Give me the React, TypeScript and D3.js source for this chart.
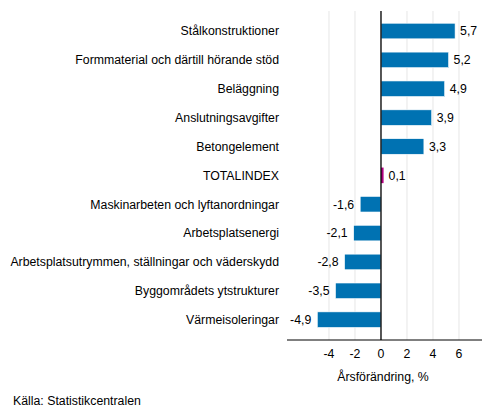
import React from "react";
import * as d3 from "d3";

const categories = [
  "Stålkonstruktioner",
  "Formmaterial och därtill hörande stöd",
  "Beläggning",
  "Anslutningsavgifter",
  "Betongelement",
  "TOTALINDEX",
  "Maskinarbeten och lyftanordningar",
  "Arbetsplatsenergi",
  "Arbetsplatsutrymmen, ställningar och väderskydd",
  "Byggområdets ytstrukturer",
  "Värmeisoleringar",
];
const values = [5.7, 5.2, 4.9, 3.9, 3.3, 0.1, -1.6, -2.1, -2.8, -3.5, -4.9];
const ticks = [-4, -2, 0, 2, 4, 6];

const W = 493;
const H = 416;
const font = "'Liberation Sans', Arial, sans-serif";
const fs = 12.3;

const App: React.FC = () => {
  const x = d3.scaleLinear().domain([-7.23, 7.77]).range([287, 482]);
  const y = d3
    .scaleBand<string>()
    .domain(categories)
    .range([16.6, 334.1])
    .paddingInner(0.46)
    .paddingOuter(0.23);
  const fmt = (v: number) => String(v).replace(".", ",");
  const top = 11;
  const bottom = 340;

  return (
    <svg width={W} height={H} style={{ position: "absolute", left: 0, top: 0 }}>
      <rect width={W} height={H} fill="#fff" />
      {ticks.map((t) => (
        <line key={t} x1={x(t)} x2={x(t)} y1={top} y2={bottom} stroke="#e6e6e6" strokeWidth={1} />
      ))}
      {categories.map((c, i) => {
        const v = values[i];
        const x0 = x(Math.min(0, v));
        let x1 = x(Math.max(0, v));
        if (x1 - x0 < 2.6) x1 = x0 + 2.6;
        const yy = y(c)!;
        const cy = yy + y.bandwidth() / 2;
        const small = Math.abs(v) < 0.5;
        return (
          <g key={c}>
            <rect
              x={x0}
              y={yy}
              width={x1 - x0}
              height={y.bandwidth()}
              fill={c === "TOTALINDEX" ? "#b0007f" : "#0072b2"}
              stroke={small ? "none" : "#ffffff"}
              strokeWidth={0.6}
            />
            <text
              x={279}
              y={cy}
              dy="0.35em"
              textAnchor="end"
              fontFamily={font}
              fontSize={fs}
              fill="#000"
            >
              {c}
            </text>
            <text
              x={v >= 0 ? x1 + 5 : x0 - 6}
              y={cy}
              dy="0.35em"
              textAnchor={v >= 0 ? "start" : "end"}
              fontFamily={font}
              fontSize={fs}
              fill="#000"
            >
              {fmt(v)}
            </text>
          </g>
        );
      })}
      <line x1={x(0)} x2={x(0)} y1={top} y2={bottom} stroke="#000" strokeWidth={1.3} />
      <line x1={287} x2={482} y1={bottom} y2={bottom} stroke="#000" strokeWidth={1} />
      {ticks.map((t) => (
        <text
          key={t}
          x={x(t)}
          y={354}
          dy="0.35em"
          textAnchor="middle"
          fontFamily={font}
          fontSize={fs}
          fill="#000"
        >
          {t}
        </text>
      ))}
      <text x={383} y={377} dy="0.35em" textAnchor="middle" fontFamily={font} fontSize={fs} fill="#000">
        Årsförändring, %
      </text>
      <text x={13} y={401} dy="0.35em" fontFamily={font} fontSize={fs} fill="#000">
        Källa: Statistikcentralen
      </text>
    </svg>
  );
};

export default App;
